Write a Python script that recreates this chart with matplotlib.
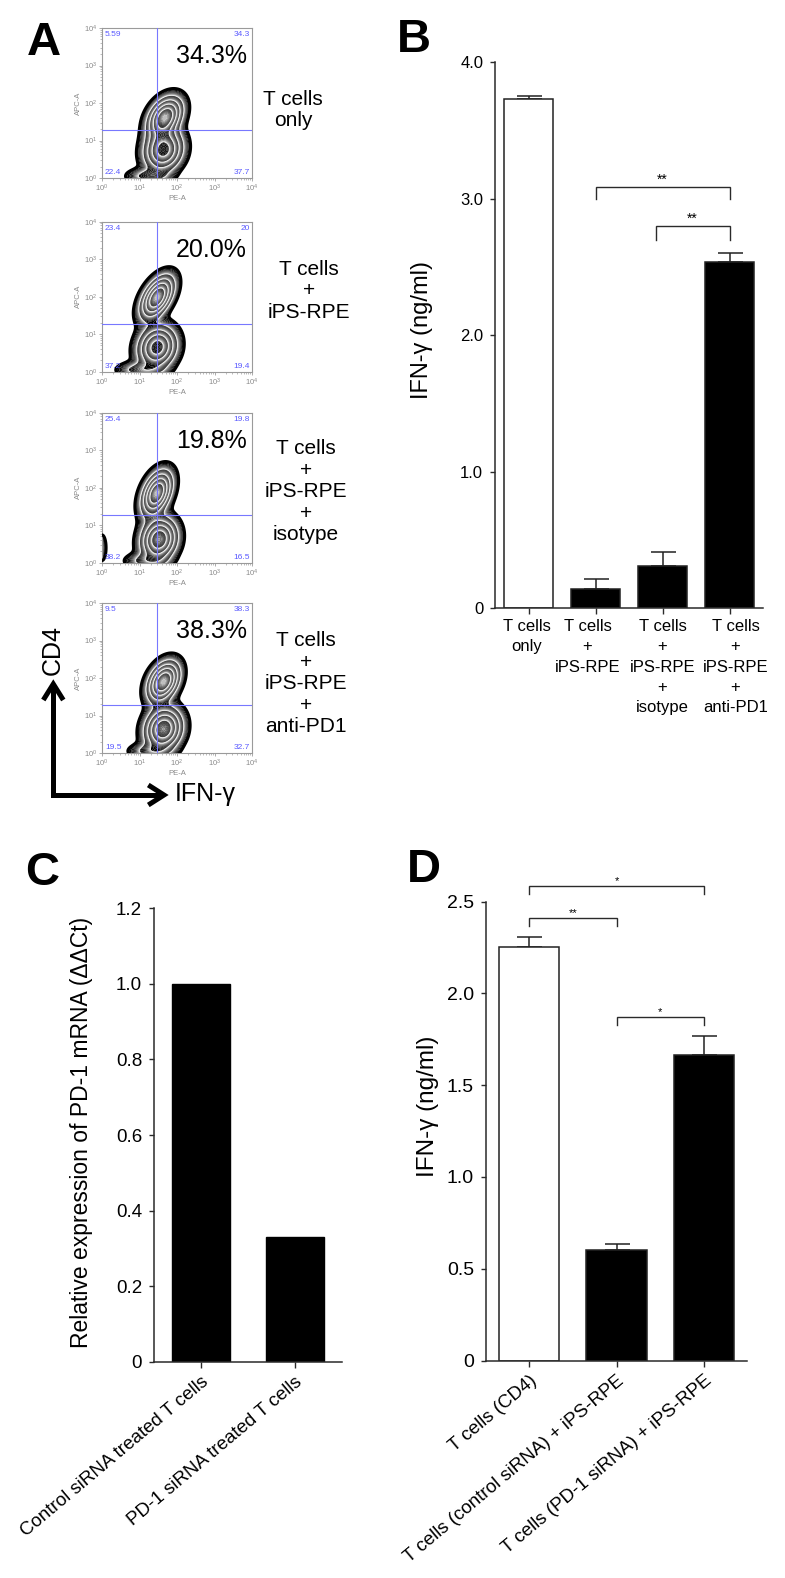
import numpy as np
import matplotlib
matplotlib.use('Agg')
import matplotlib.pyplot as plt
from matplotlib.lines import Line2D
from matplotlib.ticker import NullFormatter
from matplotlib.transforms import ScaledTranslation

plt.rcParams['font.family'] = ['Liberation Sans', 'DejaVu Sans']
plt.rcParams['mathtext.default'] = 'regular'

W, H = 785, 1578
fig = plt.figure(figsize=(W / 100, H / 100), dpi=100)


def ax_px(x0, y0, x1, y1):
    return fig.add_axes([x0 / W, 1 - y1 / H, (x1 - x0) / W, (y1 - y0) / H])


def fx(x):
    return x / W


def fy(y):
    return 1 - y / H


# ---------------- data: panel A (flow cytometry) ----------------
flow_conditions = ["T cells\nonly",
                   "T cells\n+\niPS-RPE",
                   "T cells\n+\niPS-RPE\n+\nisotype",
                   "T cells\n+\niPS-RPE\n+\nanti-PD1"]
flow_percent = ["34.3%", "20.0%", "19.8%", "38.3%"]
quad_UL = ["5.59", "23.4", "25.4", "9.5"]
quad_UR = ["34.3", "20", "19.8", "38.3"]
quad_LL = ["22.4", "37.2", "38.2", "19.5"]
quad_LR = ["37.7", "19.4", "16.5", "32.7"]
gate_pe = 29.5
gate_apc = 18.6
# populations: (log10 PE-A, log10 APC-A, sd x, sd y, corr, weight)
pops_tcells_only = [(1.68, 1.62, 0.25, 0.29, 0.35, 1.0),
                    (1.64, 0.75, 0.28, 0.31, 0.12, 0.85),
                    (1.25, 0.05, 0.33, 0.12, 0.0, 0.18)]
pops_ips_rpe = [(1.47, 1.98, 0.24, 0.31, 0.50, 1.0),
                (1.47, 0.65, 0.28, 0.31, 0.12, 0.85),
                (1.05, 0.05, 0.35, 0.12, 0.0, 0.20)]
pops_isotype = [(1.46, 1.85, 0.22, 0.32, 0.40, 1.0),
                (1.52, 0.62, 0.26, 0.31, 0.12, 0.95),
                (1.20, 0.05, 0.32, 0.12, 0.0, 0.18),
                (0.00, 0.40, 0.07, 0.22, 0.0, 0.10)]
pops_antipd1 = [(1.64, 1.90, 0.23, 0.29, 0.35, 1.0),
                (1.64, 0.64, 0.27, 0.31, 0.12, 0.95),
                (1.30, 0.05, 0.32, 0.12, 0.0, 0.18)]
flow_pops = [pops_tcells_only, pops_ips_rpe, pops_isotype, pops_antipd1]

# ---------------- data: panel B ----------------
cats_B = ["T cells\nonly", "T cells\n+\niPS-RPE",
          "T cells\n+\niPS-RPE\n+\nisotype", "T cells\n+\niPS-RPE\n+\nanti-PD1"]
vals_B = [3.73, 0.14, 0.31, 2.54]
err_B = [0.02, 0.075, 0.105, 0.065]
colors_B = ["white", "black", "black", "black"]
sig_B = [(1, 3, 3.09, 3.00, "**"), (1.9, 3, 2.80, 2.70, "**")]

# ---------------- data: panel C ----------------
cats_C = ["Control siRNA treated T cells", "PD-1 siRNA treated T cells"]
vals_C = [1.0, 0.33]

# ---------------- data: panel D ----------------
cats_D = ["T cells (CD4)", "T cells (control siRNA) + iPS-RPE",
          "T cells (PD-1 siRNA) + iPS-RPE"]
vals_D = [2.255, 0.603, 1.665]
err_D = [0.05, 0.03, 0.105]
colors_D = ["white", "black", "black"]
sig_D = [(0, 2, 2.585, 2.54, "*"), (0, 1, 2.41, 2.365, "**"), (1, 2, 1.87, 1.83, "*")]

# ================= Panel A =================
flow_tops = [28, 221.7, 412.7, 603]
cond_xy = [(293, 110), (309, 291), (306, 491.7), (306, 683.7)]
gx = np.linspace(-0.3, 4.0, 360)
gy = np.linspace(-0.3, 4.0, 360)
GX, GY = np.meshgrid(gx, gy)
fr = np.array([0.03, 0.13, 0.28, 0.48, 0.72])
nsub = 10
shade = 0.75 * np.linspace(0, 1, nsub) ** 2.0
for i in range(4):
    top = flow_tops[i]
    ax = ax_px(102, top, 252, top + 150)
    D = np.zeros_like(GX)
    for (mx, my, sx, sy, r, w) in flow_pops[i]:
        u = (GX - mx) / sx
        v = (GY - my) / sy
        q = (u * u - 2 * r * u * v + v * v) / (1 - r * r)
        D += w * np.exp(-0.5 * q)
    peak = D.max()
    major = peak * fr
    bounds = list(major) + [peak * 1.0001]
    levels, cols = [], []
    for k in range(len(bounds) - 1):
        sub = np.linspace(bounds[k], bounds[k + 1], nsub + 1)[:-1]
        levels.extend(sub)
        cols.extend([str(g) for g in shade])
    levels.append(bounds[-1])
    X, Y = 10 ** GX, 10 ** GY
    ax.contourf(X, Y, D, levels=levels, colors=cols, zorder=1, antialiased=True)
    ax.contour(X, Y, D, levels=major[1:], colors='white', linewidths=0.6, zorder=2)
    ax.contour(X, Y, D, levels=major[:1], colors='black', linewidths=2.2, zorder=3)
    ax.set_xscale('log')
    ax.set_yscale('log')
    ax.set_xlim(1, 1e4)
    ax.set_ylim(1, 1e4)
    ax.xaxis.set_minor_formatter(NullFormatter())
    ax.yaxis.set_minor_formatter(NullFormatter())
    ax.tick_params(which='major', direction='out', colors='#8a8a8a', labelsize=5.5,
                   length=2.5, width=0.5, pad=1)
    ax.tick_params(which='minor', direction='out', colors='#8a8a8a', length=1.5, width=0.4)
    for s in ax.spines.values():
        s.set_color('#9a9a9a')
        s.set_linewidth(0.8)
    ax.set_xlabel("PE-A", fontsize=5.5, color='#8a8a8a', labelpad=0.5)
    ax.set_ylabel("APC-A", fontsize=5.5, color='#8a8a8a', labelpad=1)
    ax.axvline(gate_pe, color='#7878ff', lw=0.8, zorder=4)
    ax.axhline(gate_apc, color='#7878ff', lw=0.8, zorder=4)
    qc = '#5a5aff'
    ax.text(0.02, 0.955, quad_UL[i], transform=ax.transAxes, fontsize=6, color=qc,
            ha='left', va='center', zorder=5)
    ax.text(0.985, 0.955, quad_UR[i], transform=ax.transAxes, fontsize=6, color=qc,
            ha='right', va='center', zorder=5)
    ax.text(0.02, 0.035, quad_LL[i], transform=ax.transAxes, fontsize=6, color=qc,
            ha='left', va='center', zorder=5)
    ax.text(0.985, 0.035, quad_LR[i], transform=ax.transAxes, fontsize=6, color=qc,
            ha='right', va='center', zorder=5)
    ax.text(0.967, 0.813, flow_percent[i], transform=ax.transAxes, fontsize=18,
            ha='right', va='center', zorder=5)
    cx, cy = cond_xy[i]
    fig.text(fx(cx), fy(cy), flow_conditions[i], fontsize=15, ha='center', va='center',
             multialignment='center', linespacing=1.17)

# axis arrows CD4 / IFN-gamma
alw = 3.6
fig.add_artist(Line2D([fx(53.3), fx(53.3), fx(161)], [fy(686), fy(795), fy(795)],
                      transform=fig.transFigure, color='black', lw=alw,
                      solid_joinstyle='miter', solid_capstyle='butt'))
fig.add_artist(Line2D([fx(43.3), fx(53.3), fx(63.3)], [fy(700), fy(684), fy(700)],
                      transform=fig.transFigure, color='black', lw=alw,
                      solid_joinstyle='miter', solid_capstyle='butt'))
fig.add_artist(Line2D([fx(148.3), fx(164), fx(148.3)], [fy(785), fy(795), fy(805)],
                      transform=fig.transFigure, color='black', lw=alw,
                      solid_joinstyle='miter', solid_capstyle='butt'))
fig.text(fx(52.5), fy(650), "CD4", fontsize=18, rotation=90, ha='center', va='center')
fig.text(fx(175), fy(801), "IFN-γ", fontsize=18, ha='left', va='baseline')


# ================= helper for bar panels =================
def style_bar_axes(ax, tick_fs):
    for s in ['top', 'right']:
        ax.spines[s].set_visible(False)
    for s in ['left', 'bottom']:
        ax.spines[s].set_color('#2a2a2a')
        ax.spines[s].set_linewidth(1.1)
    ax.tick_params(axis='both', direction='out', color='#2a2a2a', width=1.0,
                   labelsize=tick_fs)
    ax.tick_params(axis='y', length=3.5, pad=5)
    ax.tick_params(axis='x', length=4.5)


def bracket(ax, x1, x2, y, yleg, text, fs):
    ax.plot([x1, x1, x2, x2], [yleg, y, y, yleg], color='#2a2a2a', lw=1.0,
            clip_on=False, solid_joinstyle='miter')
    ax.text((x1 + x2) / 2, y, text, ha='center', va='bottom', fontsize=fs,
            clip_on=False)


# ================= Panel B =================
axB = ax_px(495, 62.3, 763, 608.3)
xB = np.arange(len(vals_B))
axB.bar(xB, vals_B, width=0.746, color=colors_B, edgecolor='#222222', linewidth=1.1,
        zorder=2)
axB.errorbar(xB, vals_B, yerr=[np.zeros(len(err_B)), err_B], fmt='none',
             ecolor='#222222', elinewidth=1.1, capsize=9, capthick=1.1, zorder=1)
axB.set_xlim(-0.5, 3.5)
axB.set_ylim(0, 4.0)
axB.set_yticks([0, 1, 2, 3, 4])
axB.set_yticklabels(["0", "1.0", "2.0", "3.0", "4.0"])
axB.set_xticks(xB)
axB.set_xticklabels(cats_B, linespacing=1.45, multialignment='center')
style_bar_axes(axB, 12)
axB.tick_params(axis='x', labelsize=12, pad=3)
label_shift_px = [-2, -8, 0, 6]
for lbl, dx in zip(axB.get_xticklabels(), label_shift_px):
    lbl.set_transform(lbl.get_transform() + ScaledTranslation(dx / 100, 0, fig.dpi_scale_trans))
for (a, b, y, yl, t) in sig_B:
    bracket(axB, a, b, y, yl, t, 10)
fig.text(fx(421.7), fy(330), "IFN-γ (ng/ml)", fontsize=17, rotation=90,
         ha='center', va='center')

# ================= Panel C =================
axC = ax_px(154, 908.3, 341.7, 1361.7)
xC = np.arange(len(vals_C))
axC.bar(xC, vals_C, width=0.62, color='black', edgecolor='black', linewidth=1.0)
axC.set_xlim(-0.5, 1.5)
axC.set_ylim(0, 1.2)
axC.set_yticks([0, 0.2, 0.4, 0.6, 0.8, 1.0, 1.2])
axC.set_yticklabels(["0", "0.2", "0.4", "0.6", "0.8", "1.0", "1.2"])
axC.set_xticks(xC)
axC.set_xticklabels(cats_C, rotation=40, ha='right', va='top', rotation_mode='anchor')
style_bar_axes(axC, 13.5)
axC.tick_params(axis='x', pad=4)
fig.text(fx(82), fy(1132), "Relative expression of PD-1 mRNA (ΔΔCt)", fontsize=16.5,
         rotation=90, ha='center', va='center')

# ================= Panel D =================
axD = ax_px(485.7, 901.7, 747.3, 1360.5)
xD = np.arange(len(vals_D))
axD.bar(xD, vals_D, width=0.69, color=colors_D, edgecolor='#222222', linewidth=1.1,
        zorder=2)
axD.errorbar(xD, vals_D, yerr=[np.zeros(len(err_D)), err_D], fmt='none',
             ecolor='#222222', elinewidth=1.1, capsize=9, capthick=1.1, zorder=1)
axD.set_xlim(-0.5, 2.5)
axD.set_ylim(0, 2.5)
axD.set_yticks([0, 0.5, 1.0, 1.5, 2.0, 2.5])
axD.set_yticklabels(["0", "0.5", "1.0", "1.5", "2.0", "2.5"])
axD.set_xticks(xD)
axD.set_xticklabels(cats_D, rotation=40, ha='right', va='top', rotation_mode='anchor')
style_bar_axes(axD, 14)
axD.tick_params(axis='x', labelsize=13.5, pad=4)
for (a, b, y, yl, t) in sig_D:
    bracket(axD, a, b, y, yl, t, 8)
fig.text(fx(428), fy(1106), "IFN-γ (ng/ml)", fontsize=17.5, rotation=90,
         ha='center', va='center')

# ================= panel letters =================
for lab, x, y in [("A", 27, 55), ("B", 397, 52), ("C", 25, 885), ("D", 407, 882)]:
    fig.text(fx(x), fy(y), lab, fontsize=34, fontweight='bold', ha='left', va='baseline')

fig.savefig("out.png", dpi=100, facecolor='white')
